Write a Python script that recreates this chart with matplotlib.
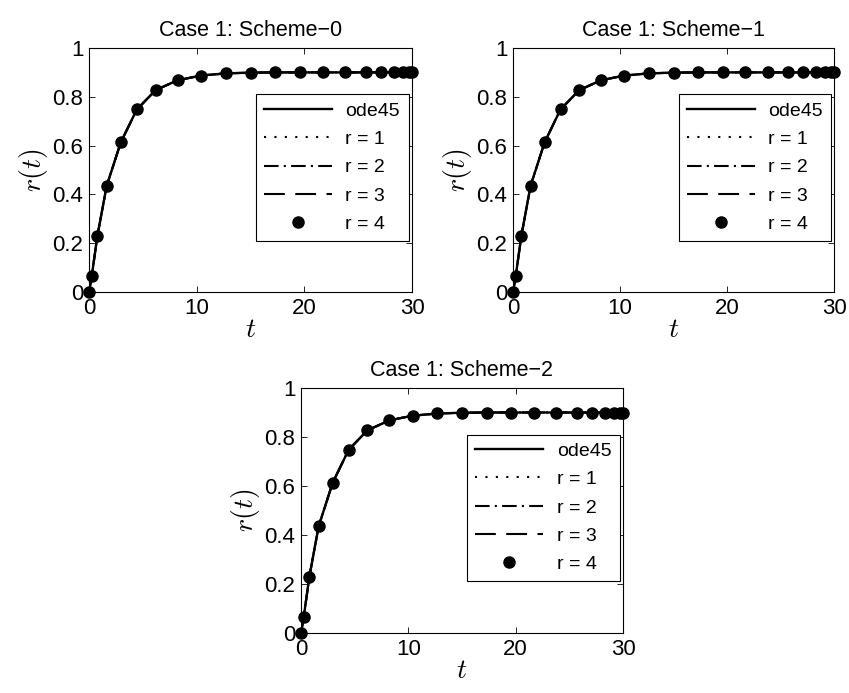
import matplotlib
matplotlib.use("Agg")
import matplotlib.pyplot as plt

plt.rcParams["font.family"] = ["Liberation Sans", "DejaVu Sans"]
plt.rcParams["mathtext.fontset"] = "cm"

# values (same curve in all three panels)
t_vals = [0.0, 0.25, 0.78, 1.64, 2.95, 4.44, 6.18, 8.23, 10.4, 12.7, 15.0,
          17.3, 19.6, 21.7, 23.8, 25.7, 27.1, 28.3, 29.2, 29.7, 30.0]
r_vals = [0.0, 0.064, 0.23, 0.435, 0.613, 0.748, 0.827, 0.868, 0.887, 0.896, 0.899,
          0.900, 0.900, 0.900, 0.900, 0.900, 0.900, 0.900, 0.900, 0.900, 0.900]
titles = ["Case 1: Scheme\u22120", "Case 1: Scheme\u22121", "Case 1: Scheme\u22122"]
labels = ["ode45", "r = 1", "r = 2", "r = 3", "r = 4"]
x_ticks = [0, 10, 20, 30]
y_ticks = [0, 0.2, 0.4, 0.6, 0.8, 1]
y_ticklabels = ["0", "0.2", "0.4", "0.6", "0.8", "1"]

W, H = 849, 693
fig = plt.figure(figsize=(W / 100, H / 100), dpi=100)

# axes boxes in pixels: left, top, right, bottom
boxes = [(89, 48, 412, 292), (513, 48, 834, 292), (301, 388, 623, 633)]

for box, title in zip(boxes, titles):
    l, t, r, b = box
    ax = fig.add_axes([l / W, 1 - b / H, (r - l) / W, (b - t) / H])
    ax.plot(t_vals, r_vals, "k-", lw=1.7, label=labels[0])
    ax.plot(t_vals, r_vals, color="k", lw=1.5, dashes=(1, 4), label=labels[1])
    ax.plot(t_vals, r_vals, color="k", lw=1.5, dashes=(7, 2.5, 1, 2.5), label=labels[2])
    ax.plot(t_vals, r_vals, color="k", lw=1.5, dashes=(10, 5), label=labels[3])
    ax.plot(t_vals, r_vals, "ko", ms=8, ls="none", label=labels[4], clip_on=False)
    ax.set_xlim(0, 30)
    ax.set_ylim(0, 1)
    ax.set_xticks(x_ticks)
    ax.set_yticks(y_ticks)
    ax.set_yticklabels(y_ticklabels)
    ax.tick_params(direction="in", top=True, right=True, labelsize=16,
                   length=4, width=0.6, pad=4)
    for s in ax.spines.values():
        s.set_linewidth(0.8)
    ax.set_title(title, fontsize=15.5, pad=9)
    ax.set_xlabel("$t$", fontsize=20, labelpad=-1)
    ax.set_ylabel("$r(t)$", fontsize=20, labelpad=2)
    leg = ax.legend(loc="upper left", bbox_to_anchor=(0.517, 0.19, 0.474, 0.62),
                    mode="expand", fontsize=14, frameon=True, fancybox=False,
                    framealpha=1, edgecolor="black", handlelength=3.5,
                    labelspacing=0.55, borderpad=0.4, handletextpad=0.7,
                    borderaxespad=0)
    leg.get_frame().set_linewidth(0.8)

fig.savefig("out.png", dpi=100)
